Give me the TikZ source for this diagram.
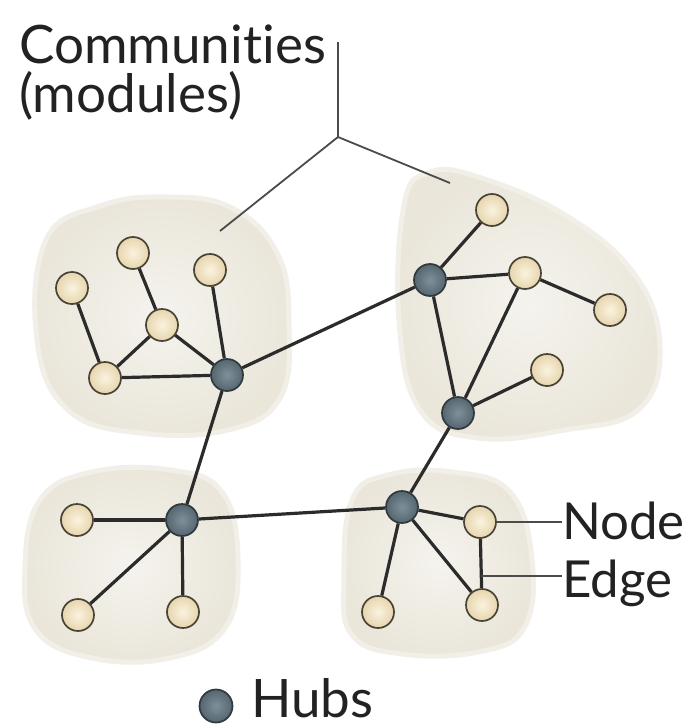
\documentclass[tikz,border=0pt]{standalone}
\usepackage{fontspec}
\setmainfont{Lato}[Ligatures=NoCommon]
\usetikzlibrary{calc}
\definecolor{blobin}{HTML}{F5F3EE}
\definecolor{blobout}{HTML}{EAE6DA}
\definecolor{blobedge}{HTML}{F2EFE8}
\definecolor{nodein}{HTML}{FBF3DF}
\definecolor{nodeout}{HTML}{E6D5AE}
\definecolor{nodeline}{HTML}{4A4436}
\definecolor{hubin}{HTML}{7E909A}
\definecolor{hubout}{HTML}{55666F}
\definecolor{hubline}{HTML}{2F3A40}
\definecolor{edgecol}{HTML}{2B2B2B}
\definecolor{textcol}{HTML}{222222}
\tikzset{
  x=1pt, y=-1pt,
  community/.style={inner color=blobin, outer color=blobout, draw=blobedge, line width=5pt},
  plainnode/.style={circle, minimum size=32pt, inner sep=0pt, draw=nodeline,
    line width=1.7pt, inner color=nodein, outer color=nodeout},
  hubnode/.style={circle, minimum size=32pt, inner sep=0pt, draw=hubline,
    line width=1.7pt, inner color=hubin, outer color=hubout},
  link/.style={draw=edgecol, line width=3.2pt},
  pointer/.style={draw=edgecol!85, line width=1.8pt},
  label/.style={text=textcol, inner sep=0pt, font=\fontsize{53}{60}\selectfont},
  sidelabel/.style={label, font=\fontsize{51}{60}\selectfont},
}
\begin{document}
\begin{tikzpicture}
\useasboundingbox (0,0) rectangle (691,728);
\fill[white] (0,0) rectangle (691,728);

% communities
\path[community] plot[smooth cycle, tension=0.7] coordinates {
  (46,240) (100,206) (165,197) (232,208) (278,255) (289,325) (280,398)
  (228,430) (140,433) (68,410) (37,340)};
\path[community] plot[smooth cycle, tension=0.7] coordinates {
  (404,205) (428,173) (475,176) (565,215) (635,275) (660,348) (638,410)
  (565,430) (478,438) (420,410) (399,320)};
\path[community] plot[smooth cycle, tension=0.7] coordinates {
  (40,500) (92,472) (170,470) (222,492) (238,560) (225,628) (170,658)
  (92,658) (36,630) (25,568)};
\path[community] plot[smooth cycle, tension=0.7] coordinates {
  (352,500) (388,475) (452,472) (510,492) (532,560) (524,628) (478,652)
  (402,654) (352,635) (344,580)};

% nodes
\node[plainnode] (a1) at (72,288) {};
\node[plainnode] (a2) at (133,253) {};
\node[plainnode] (a3) at (210,270) {};
\node[plainnode] (a4) at (162,325) {};
\node[plainnode] (a5) at (105,378) {};
\node[hubnode]   (h1) at (227,375) {};

\node[plainnode] (m1) at (492,210) {};
\node[hubnode]   (h2) at (430,280) {};
\node[plainnode] (m2) at (525,273) {};
\node[plainnode] (m3) at (610,310) {};
\node[plainnode] (m4) at (547,370) {};
\node[hubnode]   (h4) at (458,413) {};

\node[plainnode] (b1) at (77,520) {};
\node[hubnode]   (h3) at (182,520) {};
\node[plainnode] (b2) at (78,615) {};
\node[plainnode] (b3) at (183,612) {};

\node[hubnode]   (h5) at (402,507) {};
\node[plainnode] (c1) at (480,522) {};
\node[plainnode] (c2) at (378,612) {};
\node[plainnode] (c3) at (482,605) {};

% edges
\draw[link] (a1) -- (a5);
\draw[link] (a2) -- (a4);
\draw[link] (a4) -- (a5);
\draw[link] (a4) -- (h1);
\draw[link] (a5) -- (h1);
\draw[link] (a3) -- (h1);
\draw[link] (h1) -- (h2);
\draw[link] (h1) -- (h3);
\draw[link] (h2) -- (m1);
\draw[link] (h2) -- (m2);
\draw[link] (m2) -- (m3);
\draw[link] (h2) -- (h4);
\draw[link] (m2) -- (h4);
\draw[link] (h4) -- (m4);
\draw[link] (h4) -- (h5);
\draw[link] (b1) -- (h3);
\draw[link] (h3) -- (b2);
\draw[link] (h3) -- (b3);
\draw[link] (h3) -- (h5);
\draw[link] (h5) -- (c1);
\draw[link] (h5) -- (c2);
\draw[link] (h5) -- (c3);
\draw[link] (c1) -- (c3);

% labels
\node[label, anchor=base west] (comm) at (19,63) {Communities};
\node[label, anchor=base west] (mods) at (19,112) {(modules)};
\coordinate (top) at (338,42);
\coordinate (fork) at (338,137);
\coordinate (leftend) at (220,231);
\coordinate (rightend) at (450,183);
\draw[pointer] (top) -- (fork) -- (leftend);
\draw[pointer] (fork) -- (rightend);

\node[sidelabel, anchor=base west] (nodelbl) at (562,539) {Node};
\node[sidelabel, anchor=base west] (edgelbl) at (562,597) {Edge};
\coordinate (edgemid) at ($(c1)!0.65!(c3)$);
\draw[pointer] (c1) -- (c1 -| nodelbl.west);
\draw[pointer] (edgemid) -- (edgemid -| edgelbl.west);

\node[hubnode, minimum size=33pt] (hubkey) at (216,706) {};
\node[label, anchor=base west] (hubs) at (251,717) {Hubs};
\end{tikzpicture}
\end{document}
